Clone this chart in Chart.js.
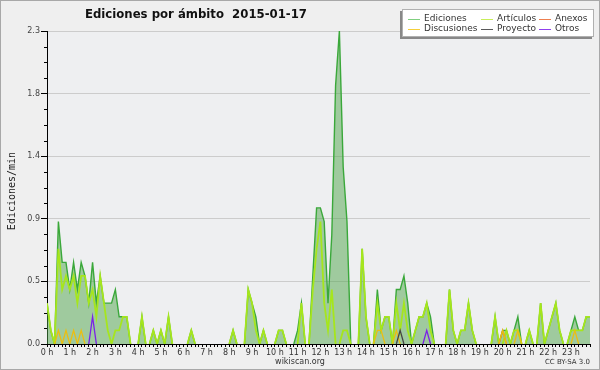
<!DOCTYPE html>
<html>
<head>
<meta charset="utf-8">
<script src="https://cdn.jsdelivr.net/npm/chart.js@4.4.1/dist/chart.umd.min.js"></script>
<style>
  html, body { margin: 0; padding: 0; background: #efefef; }
  canvas { display: block; }
</style>
</head>
<body>
<canvas id="chart" width="600" height="370"></canvas>
<script>
// Ediciones por minuto, una muestra cada 10 minutos (144 puntos en el día)
const hourLabels = ['0 h', '1 h', '2 h', '3 h', '4 h', '5 h', '6 h', '7 h', '8 h', '9 h', '10 h', '11 h',
                    '12 h', '13 h', '14 h', '15 h', '16 h', '17 h', '18 h', '19 h', '20 h', '21 h', '22 h', '23 h'];
const yTicks = [0, 0.46, 0.92, 1.38, 1.84, 2.3];

const ediciones = [
  0.3, 0.1, 0, 0.9, 0.6, 0.6, 0.4, 0.6, 0.4, 0.6, 0.5, 0.3,
  0.6, 0.3, 0.5, 0.3, 0.3, 0.3, 0.4, 0.2, 0.2, 0.2, 0, 0,
  0, 0.2, 0, 0, 0.1, 0, 0.1, 0, 0.2, 0, 0, 0,
  0, 0, 0.1, 0, 0, 0, 0, 0, 0, 0, 0, 0,
  0, 0.1, 0, 0, 0, 0.4, 0.3, 0.2, 0, 0.1, 0, 0,
  0, 0.1, 0.1, 0, 0, 0, 0.1, 0.3, 0, 0, 0.5, 1.0,
  1.0, 0.9, 0.3, 0.8, 1.9, 2.3, 1.3, 0.9, 0, 0, 0, 0.7,
  0.2, 0, 0, 0.4, 0.1, 0.2, 0.2, 0, 0.4, 0.4, 0.5, 0.3,
  0, 0.1, 0.2, 0.2, 0.3, 0.2, 0, 0, 0, 0, 0.4, 0.1,
  0, 0.1, 0.1, 0.3, 0.1, 0, 0, 0, 0, 0, 0.2, 0,
  0.1, 0.1, 0, 0.1, 0.2, 0, 0, 0.1, 0, 0, 0.3, 0,
  0.1, 0.2, 0.3, 0.1, 0, 0, 0.1, 0.2, 0.1, 0.1, 0.2, 0.2
];
const articulos = [
  0.3, 0.1, 0, 0.7, 0.4, 0.5, 0.4, 0.5, 0.3, 0.5, 0.5, 0.3,
  0.4, 0.2, 0.5, 0.3, 0.1, 0, 0.1, 0.1, 0.2, 0.2, 0, 0,
  0, 0.2, 0, 0, 0.1, 0, 0.1, 0, 0.2, 0, 0, 0,
  0, 0, 0.1, 0, 0, 0, 0, 0, 0, 0, 0, 0,
  0, 0.1, 0, 0, 0, 0.4, 0.3, 0.1, 0, 0.1, 0, 0,
  0, 0.1, 0.1, 0, 0, 0, 0, 0.3, 0, 0, 0.4, 0.7,
  0.9, 0.3, 0.1, 0.4, 0, 0, 0.1, 0.1, 0, 0, 0, 0.7,
  0.2, 0, 0, 0.3, 0.1, 0.2, 0.2, 0, 0.3, 0.1, 0.3, 0.1,
  0, 0.1, 0.2, 0.2, 0.3, 0.1, 0, 0, 0, 0, 0.4, 0.1,
  0, 0.1, 0.1, 0.3, 0.1, 0, 0, 0, 0, 0, 0.2, 0,
  0, 0.1, 0, 0.1, 0.1, 0, 0, 0.1, 0, 0, 0.3, 0,
  0.1, 0.2, 0.3, 0.1, 0, 0, 0.1, 0.1, 0.1, 0.1, 0.2, 0.2
];
const anexos = [
  0, 0, 0, 0, 0, 0, 0, 0, 0, 0, 0, 0,
  0, 0, 0, 0, 0, 0, 0, 0, 0, 0, 0, 0,
  0, 0, 0, 0, 0, 0, 0, 0, 0, 0, 0, 0,
  0, 0, 0, 0, 0, 0, 0, 0, 0, 0, 0, 0,
  0, 0, 0, 0, 0, 0, 0, 0, 0, 0, 0, 0,
  0, 0, 0, 0, 0, 0, 0, 0, 0, 0, 0, 0,
  0, 0, 0, 0, 0, 0, 0, 0, 0, 0, 0, 0,
  0, 0, 0, 0, 0, 0, 0, 0, 0, 0, 0, 0,
  0, 0, 0, 0, 0, 0, 0, 0, 0, 0, 0, 0,
  0, 0, 0, 0, 0, 0, 0, 0, 0, 0, 0, 0,
  0.1, 0, 0, 0, 0, 0, 0, 0, 0, 0, 0, 0,
  0, 0, 0, 0, 0, 0, 0, 0, 0, 0, 0, 0
];
const discusiones = [
  0, 0, 0, 0.1, 0, 0.1, 0, 0.1, 0, 0.1, 0, 0,
  0, 0, 0, 0, 0, 0, 0, 0, 0, 0, 0, 0,
  0, 0, 0, 0, 0, 0, 0, 0, 0, 0, 0, 0,
  0, 0, 0, 0, 0, 0, 0, 0, 0, 0, 0, 0,
  0, 0, 0, 0, 0, 0, 0, 0, 0, 0, 0, 0,
  0, 0, 0, 0, 0, 0, 0, 0, 0, 0, 0, 0,
  0, 0, 0, 0, 0, 0, 0, 0, 0, 0, 0, 0,
  0, 0, 0, 0.1, 0.1, 0, 0, 0, 0.1, 0, 0, 0,
  0, 0, 0, 0, 0, 0, 0, 0, 0, 0, 0, 0,
  0, 0, 0, 0, 0, 0, 0, 0, 0, 0, 0, 0,
  0.1, 0, 0, 0, 0.1, 0, 0, 0, 0, 0, 0, 0,
  0, 0, 0, 0, 0, 0, 0, 0.1, 0, 0, 0, 0
];
const proyecto = [
  0, 0, 0, 0, 0, 0, 0, 0, 0, 0, 0, 0,
  0, 0, 0, 0, 0, 0, 0, 0, 0, 0, 0, 0,
  0, 0, 0, 0, 0, 0, 0, 0, 0, 0, 0, 0,
  0, 0, 0, 0, 0, 0, 0, 0, 0, 0, 0, 0,
  0, 0, 0, 0, 0, 0, 0, 0, 0, 0, 0, 0,
  0, 0, 0, 0, 0, 0, 0, 0, 0, 0, 0, 0,
  0, 0, 0, 0, 0, 0, 0, 0, 0, 0, 0, 0,
  0, 0, 0, 0, 0, 0, 0, 0, 0, 0.1, 0, 0,
  0, 0, 0, 0, 0, 0, 0, 0, 0, 0, 0, 0,
  0, 0, 0, 0, 0, 0, 0, 0, 0, 0, 0, 0,
  0, 0, 0, 0, 0, 0, 0, 0, 0, 0, 0, 0,
  0, 0, 0, 0, 0, 0, 0, 0, 0, 0, 0, 0
];
const otros = [
  0, 0, 0, 0, 0, 0, 0, 0, 0, 0, 0, 0,
  0.2, 0, 0, 0, 0, 0, 0, 0, 0, 0, 0, 0,
  0, 0, 0, 0, 0, 0, 0, 0, 0, 0, 0, 0,
  0, 0, 0, 0, 0, 0, 0, 0, 0, 0, 0, 0,
  0, 0, 0, 0, 0, 0, 0, 0, 0, 0, 0, 0,
  0, 0, 0, 0, 0, 0, 0, 0, 0, 0, 0, 0,
  0, 0, 0, 0, 0, 0, 0, 0, 0, 0, 0, 0,
  0, 0, 0, 0, 0, 0, 0, 0, 0, 0, 0, 0,
  0, 0, 0, 0, 0.1, 0, 0, 0, 0, 0, 0, 0,
  0, 0, 0, 0, 0, 0, 0, 0, 0, 0, 0, 0,
  0, 0, 0, 0, 0, 0, 0, 0, 0, 0, 0, 0,
  0, 0, 0, 0, 0, 0, 0, 0, 0, 0, 0, 0
];

// Colores de la leyenda (más claros que las líneas del gráfico)
const legendOrder = ['Ediciones', 'Artículos', 'Anexos', 'Discusiones', 'Proyecto', 'Otros'];
const legendColors = ['#80cf80', '#c8ee5a', '#ee7f4f', '#f5cf3a', '#5a5a5a', '#9040ee'];

const toXY = arr => arr.map((v, i) => ({ x: i, y: v }));
// ocultar los tramos que quedan pegados al eje (0 -> 0)
const hideZero = { borderColor: ctx => (ctx.p0.parsed.y === 0 && ctx.p1.parsed.y === 0) ? 'rgba(0,0,0,0)' : undefined };

const decor = {
  id: 'decor',
  beforeDraw(chart) {
    const c = chart.ctx, a = chart.chartArea;
    c.save();
    c.fillStyle = '#efefef';
    c.fillRect(0, 0, chart.width, chart.height);
    c.fillStyle = '#eeeff1';
    c.fillRect(a.left, a.top, a.right - a.left, a.bottom - a.top);
    c.restore();
  },
  afterDraw(chart) {
    const c = chart.ctx, a = chart.chartArea, ys = chart.scales.y;
    c.save();
    // marcas menores del eje Y
    c.strokeStyle = '#000';
    c.lineWidth = 1;
    for (let k = 0; k < yTicks.length - 1; k++) {
      const step = (yTicks[k + 1] - yTicks[k]) / 4;
      for (let j = 1; j < 4; j++) {
        const py = Math.round(ys.getPixelForValue(yTicks[k] + j * step)) + 0.5;
        c.beginPath();
        c.moveTo(a.left - 3, py);
        c.lineTo(a.left, py);
        c.stroke();
      }
    }
    // título
    c.fillStyle = '#111';
    c.font = 'bold 13px "DejaVu Sans Condensed", "DejaVu Sans"';
    c.textBaseline = 'middle';
    c.textAlign = 'left';
    c.fillText('Ediciones por ámbito  2015-01-17', 85, 15);
    // título del eje Y
    c.save();
    c.translate(12, 191);
    c.rotate(-Math.PI / 2);
    c.textAlign = 'center';
    c.font = '10px "DejaVu Sans Mono"';
    c.fillStyle = '#222';
    c.fillText('Ediciones/min', 0, 0);
    c.restore();
    // pie
    c.font = '8px "DejaVu Sans"';
    c.fillStyle = '#333';
    c.textAlign = 'center';
    c.fillText('wikiscan.org', 300, 362);
    c.font = '7px "DejaVu Sans"';
    c.textAlign = 'right';
    c.fillText('CC BY-SA 3.0', 590, 362);
    // leyenda
    c.fillStyle = '#888';
    c.fillRect(400, 11, 192, 28);
    c.fillStyle = '#fff';
    c.fillRect(402, 9, 192, 28);
    c.strokeStyle = '#b0b0b0';
    c.strokeRect(402.5, 9.5, 191, 27);
    const colX = [408, 481, 539];
    const rowY = [19, 29];
    c.font = '9px "DejaVu Sans"';
    c.textAlign = 'left';
    legendOrder.forEach((name, i) => {
      const x = colX[i % 3], y = rowY[Math.floor(i / 3)];
      c.strokeStyle = legendColors[i];
      c.lineWidth = 1;
      c.beginPath();
      c.moveTo(x, y + 0.5);
      c.lineTo(x + 12, y + 0.5);
      c.stroke();
      c.fillStyle = '#333';
      c.fillText(name, x + 16, y);
    });
    // marco de la imagen
    c.strokeStyle = '#a8a8a8';
    c.lineWidth = 1;
    c.strokeRect(0.5, 0.5, chart.width - 1, chart.height - 1);
    c.restore();
  }
};

Chart.defaults.font.family = '"DejaVu Sans"';
Chart.defaults.font.size = 8;
Chart.defaults.color = '#333';

const ctx = document.getElementById('chart').getContext('2d');
new Chart(ctx, {
  type: 'line',
  data: {
    datasets: [
      { label: 'Ediciones', data: toXY(ediciones), borderColor: '#3aa83a', borderWidth: 1.4,
        backgroundColor: 'rgba(80,165,75,0.5)', fill: 'origin', order: 6, segment: hideZero },
      { label: 'Artículos', data: toXY(articulos), borderColor: '#a6e61c', borderWidth: 1.8, order: 5, segment: hideZero },
      { label: 'Anexos', data: toXY(anexos), borderColor: '#ee7a30', borderWidth: 1.3, order: 4, segment: hideZero },
      { label: 'Discusiones', data: toXY(discusiones), borderColor: '#ecbe10', borderWidth: 1.3, order: 3, segment: hideZero },
      { label: 'Proyecto', data: toXY(proyecto), borderColor: '#444444', borderWidth: 1.3, order: 2, segment: hideZero },
      { label: 'Otros', data: toXY(otros), borderColor: '#7a22e6', borderWidth: 1.3, order: 1, segment: hideZero }
    ]
  },
  options: {
    responsive: false,
    animation: false,
    events: [],
    layout: { padding: { left: 0, right: 10, top: 31, bottom: 0 } },
    elements: { point: { radius: 0 }, line: { tension: 0 } },
    plugins: { legend: { display: false }, tooltip: { enabled: false } },
    scales: {
      x: {
        type: 'linear', min: 0, max: 143,
        afterFit: s => { s.height = 26; },
        grid: { drawOnChartArea: false, tickColor: '#000', tickLength: 3 },
        border: { color: '#000', width: 1 },
        ticks: {
          stepSize: 1, autoSkip: false, maxRotation: 0, minRotation: 0, padding: 1, color: '#333',
          callback: v => (v % 6 === 0 ? hourLabels[v / 6] : '')
        }
      },
      y: {
        min: 0, max: 2.3,
        afterFit: s => { s.width = 47; },
        afterBuildTicks: s => { s.ticks = yTicks.map(v => ({ value: v })); },
        grid: { color: '#cccccc', tickColor: '#000', tickLength: 6 },
        border: { color: '#000', width: 1 },
        ticks: { padding: 1, color: '#444', callback: v => v.toFixed(1) }
      }
    }
  },
  plugins: [decor]
});
</script>
</body>
</html>
